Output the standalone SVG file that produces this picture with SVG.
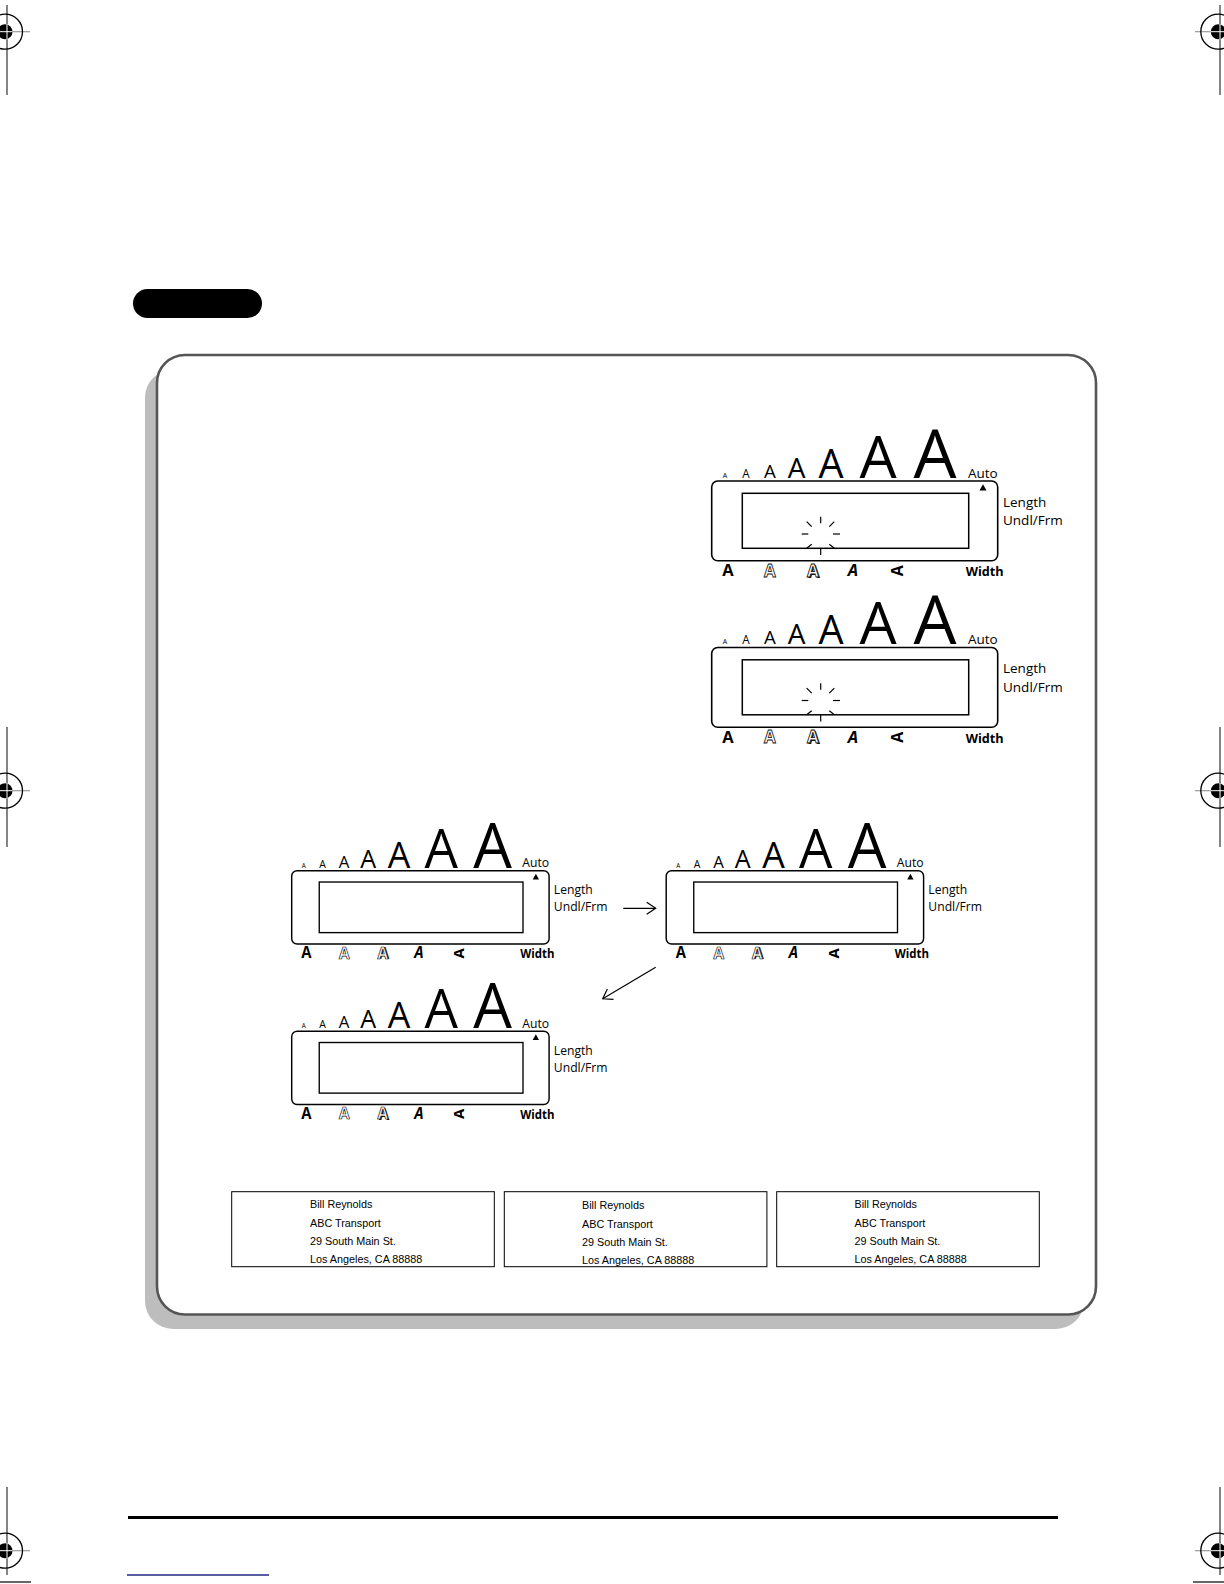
<svg xmlns="http://www.w3.org/2000/svg" width="1224" height="1584" viewBox="0 0 1224 1584">
<style>
.reg-line{stroke:#333;stroke-width:1.2;fill:none}
.reg-hl{stroke:#999;stroke-width:1.2;fill:none}
.reg-c{stroke:#000;stroke-width:1.3;fill:none}
.lcd-outer{fill:#fff;stroke:#000;stroke-width:1.6}
.lcd-inner{fill:#fff;stroke:#000;stroke-width:1.5}
.sz{font-family:"Open Sans","DejaVu Sans",sans-serif;text-anchor:middle;fill:#000}
.lbl{font-family:"Open Sans","DejaVu Sans",sans-serif;font-size:13.5px;fill:#000}
.b{font-family:"Open Sans","DejaVu Sans",sans-serif;font-weight:bold;font-size:16.5px;text-anchor:middle;fill:#000}
.o{font-family:"Open Sans","DejaVu Sans",sans-serif;font-weight:bold;font-size:17px;text-anchor:middle;fill:#fff;stroke:#111;stroke-width:0.8}
.sh{font-family:"Open Sans","DejaVu Sans",sans-serif;font-weight:bold;font-size:17px;text-anchor:middle;fill:#111}
.i{font-family:"Open Sans","DejaVu Sans",sans-serif;font-weight:bold;font-style:italic;font-size:16.5px;text-anchor:middle;fill:#000}
.r{font-family:"Open Sans","DejaVu Sans",sans-serif;font-weight:bold;font-size:16px;text-anchor:middle;fill:#000}
.w{font-family:"Open Sans","DejaVu Sans",sans-serif;font-weight:bold;font-size:12.7px;fill:#000}
.sp{stroke:#000;stroke-width:1.2;fill:none}
.addr{fill:#fff;stroke:#000;stroke-width:1}
.at{font-family:"Liberation Sans",Arial,sans-serif;font-size:10.8px;fill:#000}
.conn{stroke:#000;stroke-width:1.2;fill:none}
</style>
<defs>
<marker id="arr" markerWidth="12" markerHeight="14" refX="10" refY="7" orient="auto" markerUnits="userSpaceOnUse">
<path d="M1,1 L10,7 L1,13" fill="none" stroke="#000" stroke-width="1.2"/>
</marker>
</defs>
<rect width="1224" height="1584" fill="#fff"/>

<g id="registration-marks">
<g id="reg-tl">
<line class="reg-line" x1="7" y1="5" x2="7" y2="95"/>
<line class="reg-hl" x1="0" y1="31.7" x2="30" y2="31.7"/>
<circle class="reg-c" cx="5" cy="31.7" r="17.5"/>
<circle cx="5" cy="31.7" r="7.5" fill="#000"/>
<line x1="0" y1="31.7" x2="12.5" y2="31.7" stroke="#fff" stroke-width="1"/>
<line x1="7" y1="24" x2="7" y2="39.5" stroke="#fff" stroke-width="1"/>
</g>
<g id="reg-tr">
<line class="reg-line" x1="1220" y1="5" x2="1220" y2="95"/>
<line class="reg-hl" x1="1195" y1="31.7" x2="1224" y2="31.7"/>
<circle class="reg-c" cx="1218.3" cy="31.7" r="17.5"/>
<circle cx="1218.3" cy="31.7" r="7.5" fill="#000"/>
<line x1="1210.5" y1="31.7" x2="1224" y2="31.7" stroke="#fff" stroke-width="1"/>
<line x1="1220" y1="24" x2="1220" y2="39.5" stroke="#fff" stroke-width="1"/>
</g>
<g id="reg-ml">
<line class="reg-line" x1="7" y1="727" x2="7" y2="847"/>
<line class="reg-hl" x1="0" y1="790.7" x2="30" y2="790.7"/>
<circle class="reg-c" cx="5" cy="790.7" r="17.5"/>
<circle cx="5" cy="790.7" r="7.5" fill="#000"/>
<line x1="0" y1="790.7" x2="12.5" y2="790.7" stroke="#fff" stroke-width="1"/>
<line x1="7" y1="783" x2="7" y2="798.5" stroke="#fff" stroke-width="1"/>
</g>
<g id="reg-mr">
<line class="reg-line" x1="1220" y1="727" x2="1220" y2="847"/>
<line class="reg-hl" x1="1195" y1="790.7" x2="1224" y2="790.7"/>
<circle class="reg-c" cx="1218.3" cy="790.7" r="17.5"/>
<circle cx="1218.3" cy="790.7" r="7.5" fill="#000"/>
<line x1="1210.5" y1="790.7" x2="1224" y2="790.7" stroke="#fff" stroke-width="1"/>
<line x1="1220" y1="783" x2="1220" y2="798.5" stroke="#fff" stroke-width="1"/>
</g>
<g id="reg-bl">
<line class="reg-line" x1="7" y1="1487" x2="7" y2="1575"/>
<line class="reg-hl" x1="0" y1="1550.7" x2="30" y2="1550.7"/>
<circle class="reg-c" cx="5" cy="1550.7" r="17.5"/>
<circle cx="5" cy="1550.7" r="7.5" fill="#000"/>
<line x1="0" y1="1550.7" x2="12.5" y2="1550.7" stroke="#fff" stroke-width="1"/>
<line x1="7" y1="1543" x2="7" y2="1558.5" stroke="#fff" stroke-width="1"/>
<line x1="0" y1="1582" x2="31" y2="1582" stroke="#000" stroke-width="1.2"/>
</g>
<g id="reg-br">
<line class="reg-line" x1="1220" y1="1487" x2="1220" y2="1575"/>
<line class="reg-hl" x1="1195" y1="1550.7" x2="1224" y2="1550.7"/>
<circle class="reg-c" cx="1218.3" cy="1550.7" r="17.5"/>
<circle cx="1218.3" cy="1550.7" r="7.5" fill="#000"/>
<line x1="1210.5" y1="1550.7" x2="1224" y2="1550.7" stroke="#fff" stroke-width="1"/>
<line x1="1220" y1="1543" x2="1220" y2="1558.5" stroke="#fff" stroke-width="1"/>
<line x1="1193" y1="1582" x2="1224" y2="1582" stroke="#000" stroke-width="1.2"/>
</g>
</g>

<g id="heading-pill">
<rect x="133" y="289" width="129" height="29" rx="14.5" fill="#000"/>
</g>

<g id="frame">
<rect x="145" y="369.5" width="939" height="959.5" rx="28" fill="#bdbdbd"/>
<rect x="157" y="355" width="939" height="959.5" rx="28" fill="#fff" stroke="#555" stroke-width="2.6"/>
</g>

<g id="panel-1" transform="translate(711.7,481)">
<rect class="lcd-outer" x="0" y="0" width="286" height="79.7" rx="6"/>
<rect class="lcd-inner" x="30.6" y="12.3" width="226.4" height="55"/>
<text class="sz" x="13.3" y="-3.3" font-size="7">A</text>
<text class="sz" x="34.3" y="-3.3" font-size="11.7">A</text>
<text class="sz" x="58.3" y="-3.3" font-size="18.7">A</text>
<text class="sz" x="85" y="-3.3" font-size="28">A</text>
<text class="sz" x="119.3" y="-3.3" font-size="39.7">A</text>
<text class="sz" x="166.3" y="-3.3" font-size="58.8">A</text>
<text class="sz" x="223.3" y="-3.3" font-size="68">A</text>
<text class="lbl" x="256.3" y="-3.5" font-size="14">Auto</text>
<polygon points="267.8,9.5 274.8,9.5 271.3,3.3" fill="#000"/>
<text class="lbl" x="291.3" y="25.7">Length</text>
<text class="lbl" x="291.3" y="44">Undl/Frm</text>
<text class="b" x="16.3" y="95">A</text>
<text class="o" x="58.3" y="95.5">A</text>
<text class="sh" x="102.5" y="96.5">A</text>
<text class="o" x="101.3" y="95.5">A</text>
<text class="i" x="141.3" y="95">A</text>
<text class="r" transform="translate(185.8,89.8) rotate(-90)" x="0" y="5.7">A</text>
<text class="w" x="254" y="95">Width</text>
<g class="sp">
<line x1="109" y1="35.7" x2="109" y2="42.3"/>
<line x1="109" y1="67.3" x2="109" y2="74"/>
<line x1="90" y1="53" x2="96.6" y2="53"/>
<line x1="121.3" y1="53" x2="128.3" y2="53"/>
<line x1="95" y1="40.7" x2="100" y2="45.7"/>
<line x1="122.6" y1="40.7" x2="117.6" y2="45.7"/>
<line x1="95" y1="67.3" x2="100" y2="63.3"/>
<line x1="122.6" y1="67.3" x2="117.6" y2="63.3"/>
</g>
</g>

<g id="panel-2" transform="translate(711.7,647.5)">
<rect class="lcd-outer" x="0" y="0" width="286" height="79.7" rx="6"/>
<rect class="lcd-inner" x="30.6" y="12.3" width="226.4" height="55"/>
<text class="sz" x="13.3" y="-3.3" font-size="7">A</text>
<text class="sz" x="34.3" y="-3.3" font-size="11.7">A</text>
<text class="sz" x="58.3" y="-3.3" font-size="18.7">A</text>
<text class="sz" x="85" y="-3.3" font-size="28">A</text>
<text class="sz" x="119.3" y="-3.3" font-size="39.7">A</text>
<text class="sz" x="166.3" y="-3.3" font-size="58.8">A</text>
<text class="sz" x="223.3" y="-3.3" font-size="68">A</text>
<text class="lbl" x="256.3" y="-3.5" font-size="14">Auto</text>
<text class="lbl" x="291.3" y="25.7">Length</text>
<text class="lbl" x="291.3" y="44">Undl/Frm</text>
<text class="b" x="16.3" y="95">A</text>
<text class="o" x="58.3" y="95.5">A</text>
<text class="sh" x="102.5" y="96.5">A</text>
<text class="o" x="101.3" y="95.5">A</text>
<text class="i" x="141.3" y="95">A</text>
<text class="r" transform="translate(185.8,89.8) rotate(-90)" x="0" y="5.7">A</text>
<text class="w" x="254" y="95">Width</text>
<g class="sp">
<line x1="109" y1="35.7" x2="109" y2="42.3"/>
<line x1="109" y1="67.3" x2="109" y2="74"/>
<line x1="90" y1="53" x2="96.6" y2="53"/>
<line x1="121.3" y1="53" x2="128.3" y2="53"/>
<line x1="95" y1="40.7" x2="100" y2="45.7"/>
<line x1="122.6" y1="40.7" x2="117.6" y2="45.7"/>
<line x1="95" y1="67.3" x2="100" y2="63.3"/>
<line x1="122.6" y1="67.3" x2="117.6" y2="63.3"/>
</g>
</g>

<g id="panel-3" transform="translate(291.7,870.7) scale(0.9,0.92)">
<rect class="lcd-outer" x="0" y="0" width="286" height="79.7" rx="6"/>
<rect class="lcd-inner" x="30.6" y="12.3" width="226.4" height="55"/>
<text class="sz" x="13.3" y="-3.3" font-size="7">A</text>
<text class="sz" x="34.3" y="-3.3" font-size="11.7">A</text>
<text class="sz" x="58.3" y="-3.3" font-size="18.7">A</text>
<text class="sz" x="85" y="-3.3" font-size="28">A</text>
<text class="sz" x="119.3" y="-3.3" font-size="39.7">A</text>
<text class="sz" x="166.3" y="-3.3" font-size="58.8">A</text>
<text class="sz" x="223.3" y="-3.3" font-size="68">A</text>
<text class="lbl" x="256.3" y="-3.5" font-size="14">Auto</text>
<polygon points="267.8,9.5 274.8,9.5 271.3,3.3" fill="#000"/>
<text class="lbl" x="291.3" y="25.7">Length</text>
<text class="lbl" x="291.3" y="44">Undl/Frm</text>
<text class="b" x="16.3" y="95">A</text>
<text class="o" x="58.3" y="95.5">A</text>
<text class="sh" x="102.5" y="96.5">A</text>
<text class="o" x="101.3" y="95.5">A</text>
<text class="i" x="141.3" y="95">A</text>
<text class="r" transform="translate(185.8,89.8) rotate(-90)" x="0" y="5.7">A</text>
<text class="w" x="254" y="95">Width</text>
</g>

<g id="panel-4" transform="translate(666.2,870.7) scale(0.9,0.92)">
<rect class="lcd-outer" x="0" y="0" width="286" height="79.7" rx="6"/>
<rect class="lcd-inner" x="30.6" y="12.3" width="226.4" height="55"/>
<text class="sz" x="13.3" y="-3.3" font-size="7">A</text>
<text class="sz" x="34.3" y="-3.3" font-size="11.7">A</text>
<text class="sz" x="58.3" y="-3.3" font-size="18.7">A</text>
<text class="sz" x="85" y="-3.3" font-size="28">A</text>
<text class="sz" x="119.3" y="-3.3" font-size="39.7">A</text>
<text class="sz" x="166.3" y="-3.3" font-size="58.8">A</text>
<text class="sz" x="223.3" y="-3.3" font-size="68">A</text>
<text class="lbl" x="256.3" y="-3.5" font-size="14">Auto</text>
<polygon points="267.8,9.5 274.8,9.5 271.3,3.3" fill="#000"/>
<text class="lbl" x="291.3" y="25.7">Length</text>
<text class="lbl" x="291.3" y="44">Undl/Frm</text>
<text class="b" x="16.3" y="95">A</text>
<text class="o" x="58.3" y="95.5">A</text>
<text class="sh" x="102.5" y="96.5">A</text>
<text class="o" x="101.3" y="95.5">A</text>
<text class="i" x="141.3" y="95">A</text>
<text class="r" transform="translate(185.8,89.8) rotate(-90)" x="0" y="5.7">A</text>
<text class="w" x="254" y="95">Width</text>
</g>

<g id="panel-5" transform="translate(291.7,1031.2) scale(0.9,0.92)">
<rect class="lcd-outer" x="0" y="0" width="286" height="79.7" rx="6"/>
<rect class="lcd-inner" x="30.6" y="12.3" width="226.4" height="55"/>
<text class="sz" x="13.3" y="-3.3" font-size="7">A</text>
<text class="sz" x="34.3" y="-3.3" font-size="11.7">A</text>
<text class="sz" x="58.3" y="-3.3" font-size="18.7">A</text>
<text class="sz" x="85" y="-3.3" font-size="28">A</text>
<text class="sz" x="119.3" y="-3.3" font-size="39.7">A</text>
<text class="sz" x="166.3" y="-3.3" font-size="58.8">A</text>
<text class="sz" x="223.3" y="-3.3" font-size="68">A</text>
<text class="lbl" x="256.3" y="-3.5" font-size="14">Auto</text>
<polygon points="267.8,9.5 274.8,9.5 271.3,3.3" fill="#000"/>
<text class="lbl" x="291.3" y="25.7">Length</text>
<text class="lbl" x="291.3" y="44">Undl/Frm</text>
<text class="b" x="16.3" y="95">A</text>
<text class="o" x="58.3" y="95.5">A</text>
<text class="sh" x="102.5" y="96.5">A</text>
<text class="o" x="101.3" y="95.5">A</text>
<text class="i" x="141.3" y="95">A</text>
<text class="r" transform="translate(185.8,89.8) rotate(-90)" x="0" y="5.7">A</text>
<text class="w" x="254" y="95">Width</text>
</g>

<g id="connectors">
<line class="conn" x1="623.3" y1="908.3" x2="655.7" y2="908.3" marker-end="url(#arr)"/>
<line class="conn" x1="655.7" y1="967.3" x2="602.7" y2="998.8" marker-end="url(#arr)"/>
</g>

<g id="label-1">
<rect class="addr" x="231.7" y="1191.7" width="262.6" height="75"/>
<text class="at" x="310" y="1208.3">Bill Reynolds</text>
<text class="at" x="310" y="1226.5">ABC Transport</text>
<text class="at" x="310" y="1244.7">29 South Main St.</text>
<text class="at" x="310" y="1262.7">Los Angeles, CA 88888</text>
</g>
<g id="label-2">
<rect class="addr" x="504.3" y="1191.7" width="262.6" height="75"/>
<text class="at" x="582" y="1209.3">Bill Reynolds</text>
<text class="at" x="582" y="1227.5">ABC Transport</text>
<text class="at" x="582" y="1245.7">29 South Main St.</text>
<text class="at" x="582" y="1263.5">Los Angeles, CA 88888</text>
</g>
<g id="label-3">
<rect class="addr" x="776.7" y="1191.7" width="262.6" height="75"/>
<text class="at" x="854.5" y="1208.3">Bill Reynolds</text>
<text class="at" x="854.5" y="1226.5">ABC Transport</text>
<text class="at" x="854.5" y="1244.7">29 South Main St.</text>
<text class="at" x="854.5" y="1262.7">Los Angeles, CA 88888</text>
</g>

<g id="footer">
<line x1="128" y1="1517.5" x2="1058" y2="1517.5" stroke="#000" stroke-width="3"/>
<line x1="127" y1="1575" x2="269" y2="1575" stroke="#1f2a80" stroke-width="1.5"/>
</g>
</svg>
